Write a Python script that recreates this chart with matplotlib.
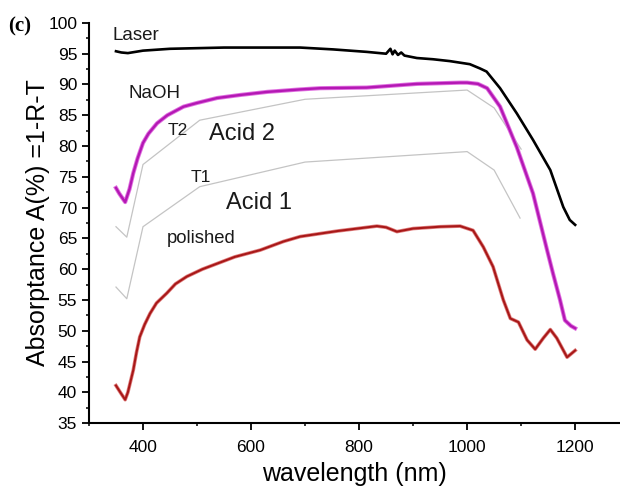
"""Absorptance spectra of differently treated samples, panel (c)."""
import matplotlib
matplotlib.use("Agg")
import matplotlib.pyplot as plt
from matplotlib.ticker import MultipleLocator

plt.rcParams["font.family"] = ["Liberation Sans", "DejaVu Sans"]

# --- data --------------------------------------------------------------
laser_wl = [350, 360, 372, 400, 450, 550, 650, 691, 752, 814, 850, 858, 862,
            866, 872, 878, 884, 907, 937, 968, 1005, 1024, 1036, 1061, 1092,
            1122, 1154, 1178, 1190, 1200]
laser_a = [95.4, 95.2, 95.1, 95.5, 95.8, 96.0, 96.0, 96.0, 95.7, 95.3, 95.0,
           95.8, 94.9, 95.5, 94.8, 95.2, 94.7, 94.3, 94.1, 93.8, 93.3, 92.6,
           92.1, 89.4, 85.3, 81.0, 76.1, 70.1, 68.0, 67.2]

naoh_wl = [350, 356, 367, 375, 382, 390, 400, 410, 426, 445, 475, 500, 537,
           580, 630, 691, 728, 814, 907, 987, 1000, 1020, 1037, 1061, 1092,
           1122, 1148, 1159, 1172, 1181, 1192, 1200]
naoh_a = [73.2, 72.3, 70.9, 73.0, 75.6, 78.0, 80.5, 82.0, 83.7, 85.0, 86.4,
          87.0, 87.8, 88.3, 88.8, 89.2, 89.4, 89.5, 90.1, 90.3, 90.3, 90.1,
          89.4, 86.4, 79.8, 72.3, 63.1, 59.3, 55.0, 51.7, 50.8, 50.4]

t2_wl = [350, 370, 400, 505, 700, 1000, 1050, 1100]
t2_a = [66.9, 65.2, 77.0, 84.2, 87.6, 89.1, 86.2, 79.5]

t1_wl = [350, 370, 400, 505, 700, 1000, 1050, 1098]
t1_a = [57.1, 55.2, 66.9, 73.4, 77.4, 79.1, 76.1, 68.3]

pol_wl = [350, 358, 367, 372, 382, 388, 394, 403, 413, 425, 444, 460, 481,
          510, 537, 570, 617, 660, 691, 760, 833, 850, 870, 900, 950, 987,
          1011, 1030, 1048, 1067, 1080, 1095, 1111, 1126, 1141, 1154, 1166,
          1185, 1200]
pol_a = [41.1, 40.0, 38.8, 40.0, 43.6, 46.5, 49.0, 51.0, 52.8, 54.5, 56.1,
         57.6, 58.8, 60.0, 60.9, 62.0, 63.1, 64.5, 65.3, 66.2, 67.0, 66.8,
         66.1, 66.6, 66.9, 67.0, 66.3, 63.6, 60.4, 55.0, 52.0, 51.4, 48.5,
         47.0, 48.8, 50.2, 48.8, 45.7, 46.8]

fig = plt.figure(figsize=(6.2, 4.88), dpi=100)
ax = fig.add_axes([0.1435, 0.133, 0.8565, 0.82])

ax.plot(t2_wl, t2_a, color="#c4c4c4", lw=0.9)
ax.plot(t1_wl, t1_a, color="#c4c4c4", lw=0.9)
ax.plot(laser_wl, laser_a, color="black", lw=1.9)
ax.plot(naoh_wl, naoh_a, color="#e070e0", lw=3.0)   # soft halo round magenta
ax.plot(naoh_wl, naoh_a, color="#b418b4", lw=1.7)
ax.plot(pol_wl, pol_a, color="#e08080", lw=2.6)
ax.plot(pol_wl, pol_a, color="#a81818", lw=1.5)

ax.set_xlim(300, 1283)
ax.set_ylim(35, 100)
ax.set_xticks([400, 600, 800, 1000, 1200])
ax.set_yticks(range(35, 101, 5))
ax.xaxis.set_minor_locator(MultipleLocator(100))
ax.yaxis.set_minor_locator(MultipleLocator(2.5))
ax.tick_params(which="major", direction="out", length=5, width=1.3, labelsize=12.5)
ax.tick_params(which="minor", direction="out", length=2.5, width=1.1)
ax.tick_params(axis="x", which="major", pad=7)
for side in ("top", "right"):
    ax.spines[side].set_visible(False)
for side in ("left", "bottom"):
    ax.spines[side].set_linewidth(1.5)

ax.set_xlabel("wavelength (nm)", fontsize=18, labelpad=5)
ax.set_ylabel("Absorptance A(%) =1-R-T", fontsize=18, labelpad=-1)

txt = dict(color="#1a1a1a", va="baseline", ha="left")
ax.text(344, 97.2, "Laser", fontsize=13.5, **txt)
ax.text(374, 87.8, "NaOH", fontsize=13.5, **txt)
ax.text(446, 81.8, "T2", fontsize=12.5, **txt)
ax.text(522, 81.0, "Acid 2", fontsize=17, **txt)
ax.text(489, 74.15, "T1", fontsize=12.5, **txt)
ax.text(554, 69.8, "Acid 1", fontsize=17, **txt)
ax.text(444, 64.2, "polished", fontsize=13.3, **txt)

fig.text(0.013, 0.945, "(c)", fontsize=15, fontweight="bold",
         family=["Liberation Serif", "DejaVu Serif"], va="center")

fig.savefig("out.png", dpi=100)
